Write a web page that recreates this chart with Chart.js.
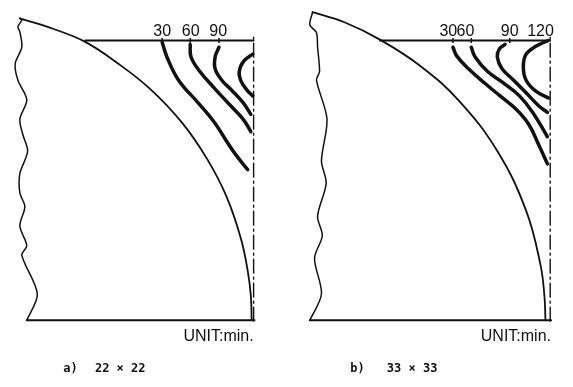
<!DOCTYPE html>
<html>
<head>
<meta charset="utf-8">
<script src="https://cdn.jsdelivr.net/npm/chart.js@4.4.0/dist/chart.umd.min.js"></script>
<style>
  html, body { margin: 0; padding: 0; background: #fff; }
  #wrap { position: relative; width: 573px; height: 387px; }
  canvas { position: absolute; top: 0; }
  #panelA { left: 0; }
  #panelB { left: 287px; }
</style>
</head>
<body>
<div id="wrap">
  <canvas id="panelA" width="287" height="387"></canvas>
  <canvas id="panelB" width="286" height="387"></canvas>
</div>
<script>
// units: symmetry axis at x = 0, bottom at y = 0, top surface line at y = 100

// ---- panel a) 22 x 22 ----
const rimA = [[-84.4,107.9],[-83.7,107.3],[-85.1,104.9],[-84.4,103.1],[-83.7,97.6],[-86.1,91.7],
  [-85.1,85.8],[-81.9,78.8],[-84.4,71.9],[-83.3,66.3],[-81.6,60.4],[-84.4,52.4],[-84.4,45.5],
  [-82.6,40.6],[-84.4,33.7],[-81.9,26.7],[-83.7,23.3],[-78.1,9.4],[-81.9,0]];
const arcA = [[-84.4,107.9],[-72.2,104.1],[-60.8,99.5],[-49.7,92.3],[-37.5,82.8],[-26.0,70.8],
  [-16.7,57.5],[-9.7,44.0],[-4.5,28.9],[-2.1,17.5],[-1.0,8.8],[-0.7,0]];
const topA = [[-60.8,100],[0,100]];
const bottomA = [[-81.9,0],[0.3,0]];
const contour30A = [[-33.0,99.3],[-31.3,94.1],[-27.1,85.8],[-20.1,77.8],[-14.2,70.8],[-9.7,63.9],[-6.6,59.4],[-2.1,53.8]];
const contour60A = [[-22.9,98.6],[-22.6,94.1],[-19.4,88.9],[-14.2,83.0],[-8.7,77.1],[-3.8,71.9],[-1.0,67.4]];
const contour90A = [[-12.5,97.6],[-13.9,94.1],[-13.9,89.9],[-11.5,85.8],[-8.0,82.3],[-3.8,77.8],[-1.0,73.6]];
const contour120A = [[-0.3,95.1],[-3.5,92.7],[-5.2,88.9],[-4.5,85.4],[-2.1,81.9],[-0.3,80.2]];
const labelsA = ['30', '60', '90'];
const labelXA = [-33.0, -22.7, -12.8];
const tickXA = [-33.0, -22.9, -12.5];

// ---- panel b) 33 x 33 ----
const rimB = [[-85.8,110.1],[-86.8,105.6],[-84.4,102.8],[-84.0,97.6],[-83.3,88.9],[-84.4,85.8],
  [-80.6,71.9],[-82.6,56.9],[-80.9,49.0],[-84.0,37.2],[-82.3,30.2],[-85.1,22.2],[-82.6,9.4],[-86.8,0]];
const arcB = [[-85.8,110.1],[-74.3,106.5],[-61.5,100.3],[-46.9,90.9],[-33.0,78.5],[-19.1,60.5],
  [-8.7,39.2],[-3.5,19.8],[-2.1,8.9],[-1.7,0]];
const topB = [[-61.5,100],[0,100]];
const bottomB = [[-86.8,0],[0.3,0]];
const contour30B = [[-35.1,97.6],[-33.7,94.4],[-29.5,89.9],[-23.6,84.7],[-18.1,80.2],[-12.2,75.3],[-7.6,69.8],[-4.2,62.8],[-1.0,55.9]];
const contour60B = [[-28.5,97.6],[-27.1,94.1],[-22.6,88.9],[-16.7,84.7],[-11.1,80.2],[-6.3,74.3],[-1.0,65.6]];
const contour90B = [[-16.3,98.6],[-18.4,96.9],[-19.1,94.1],[-17.4,89.9],[-13.2,85.8],[-8.7,81.3],[-4.2,76.7],[-1.0,74.3]];
const contour120B = [[-0.7,100],[-5.2,97.9],[-8.7,95.1],[-9.7,90.6],[-8.7,85.8],[-5.2,81.9],[-0.7,79.5]];
const labelsB = ['30', '60', '90', '120'];
const labelXB = [-36.8, -30.6, -14.6, -3.5];
const tickXB = [-35.1, -28.5, -14.6];

const axisLine = [[0,-0.3],[0,101.5]];

const PX = 2.88;      // pixels per unit
const BASE_PX = 324;  // pixel row of y = 0
const H = 387;

function curve(pts, width, tension, dash) {
  return {
    data: pts.map(p => ({ x: p[0], y: p[1] })),
    showLine: true,
    borderColor: '#111',
    borderWidth: width,
    pointRadius: 0,
    tension: tension,
    borderDash: dash || [],
    borderCapStyle: 'round',
    borderJoinStyle: 'round',
    fill: false,
    clip: false
  };
}

function ticks(xs) {
  return {
    data: xs.map(x => ({ x: x, y: 100 })),
    showLine: false,
    pointStyle: 'line',
    rotation: 90,
    pointRadius: 2.5,
    borderWidth: 1.5,
    borderColor: '#111',
    clip: false
  };
}

function textPlugin(items) {
  return {
    id: 'panelText',
    afterDatasetsDraw(chart) {
      const ctx = chart.ctx;
      const xs = chart.scales.x, ys = chart.scales.y;
      ctx.save();
      ctx.fillStyle = '#111';
      items.forEach(t => {
        ctx.font = t.font;
        ctx.textAlign = t.align || 'center';
        ctx.textBaseline = t.base || 'alphabetic';
        ctx.fillText(t.text, xs.getPixelForValue(t.x), ys.getPixelForValue(t.y));
      });
      ctx.restore();
    }
  };
}

function panelTexts(labels, labelX, unitX, capLetter, capText, capLetterX, capTextX) {
  const items = labels.map((l, i) => ({ text: l, x: labelX[i], y: 101.6, font: "16px 'Liberation Sans'" }));
  items.push({ text: 'UNIT:min.', x: unitX, y: -7.3, align: 'right', font: "16px 'Liberation Sans'" });
  items.push({ text: capLetter, x: capLetterX, y: -17.4, align: 'left', base: 'middle', font: "bold 12px 'DejaVu Sans Mono'" });
  items.push({ text: capText, x: capTextX, y: -17.4, align: 'left', base: 'middle', font: "bold 12px 'DejaVu Sans Mono'" });
  return items;
}

function panel(id, axisPx, width, datasets, texts) {
  new Chart(document.getElementById(id), {
    type: 'scatter',
    data: { datasets: datasets },
    options: {
      responsive: false,
      animation: false,
      events: [],
      layout: { padding: 0 },
      plugins: { legend: { display: false }, tooltip: { enabled: false } },
      scales: {
        x: { type: 'linear', display: false, min: -axisPx / PX, max: (width - axisPx) / PX },
        y: { type: 'linear', display: false, min: -(H - BASE_PX) / PX, max: BASE_PX / PX }
      }
    },
    plugins: [textPlugin(texts)]
  });
}

panel('panelA', 258, 287, [
  curve(rimA, 1.5, 0.3),
  curve(arcA, 1.8, 0.4),
  curve(topA, 1.8, 0),
  curve(bottomA, 2, 0),
  curve(axisLine, 1.4, 0, [14, 4, 2, 4]),
  curve(contour30A, 3.5, 0.4),
  curve(contour60A, 3.5, 0.4),
  curve(contour90A, 3.5, 0.4),
  curve(contour120A, 3.5, 0.4),
  ticks(tickXA)
], panelTexts(labelsA, labelXA, 0, 'a)', '22 × 22', -68.75, -57.3));

panel('panelB', 268, 286, [
  curve(rimB, 1.5, 0.3),
  curve(arcB, 1.8, 0.4),
  curve(topB, 1.8, 0),
  curve(bottomB, 2, 0),
  curve(axisLine, 1.4, 0, [14, 4, 2, 4]),
  curve(contour30B, 3.5, 0.4),
  curve(contour60B, 3.5, 0.4),
  curve(contour90B, 3.5, 0.4),
  curve(contour120B, 3.5, 0.4),
  ticks(tickXB)
], panelTexts(labelsB, labelXB, 0.3, 'b)', '33 × 33', -72.2, -59.0));
</script>
</body>
</html>
